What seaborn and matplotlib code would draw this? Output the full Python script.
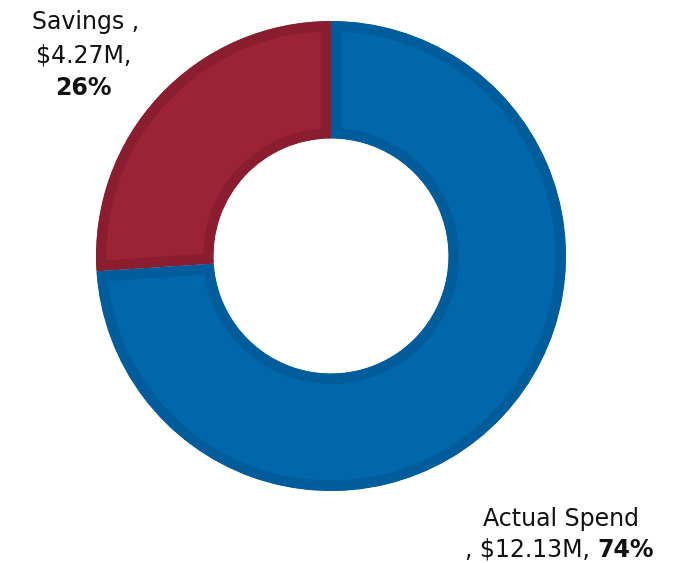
import matplotlib
matplotlib.use("Agg")
import matplotlib.pyplot as plt
from matplotlib.patches import Wedge
import seaborn as sns

# Spend breakdown (USD millions)
categories = ["Savings", "Actual Spend"]
amounts_musd = [4.27, 12.13]
shares_pct = [26, 74]
fill_colors = ["#9B2335", "#0067AB"]
edge_colors = ["#8A1E2E", "#005C9B"]

sns.set_theme(style="white")
plt.rcParams["font.family"] = ["DejaVu Sans"]

W, H = 677, 563
fig = plt.figure(figsize=(W / 100, H / 100), dpi=100)
ax = fig.add_axes([0, 0, 1, 1])

cx, cy = 331, H - 256
r_out, r_in = 235, 117.5
wedges, _ = ax.pie(
    amounts_musd,
    colors=fill_colors,
    startangle=90,
    counterclock=True,
    radius=r_out,
    center=(cx, cy),
    wedgeprops=dict(width=r_out - r_in, linewidth=0),
)
# darker inner border on each ring segment, kept inside the segment
for w, ec in zip(wedges, edge_colors):
    clip = Wedge(w.center, w.r, w.theta1, w.theta2, width=w.width,
                 transform=ax.transData)
    w.set_edgecolor(ec)
    w.set_linewidth(15)
    w.set_clip_on(True)
    w.set_clip_path(clip)

ax.set_xlim(0, W)
ax.set_ylim(0, H)
ax.set_aspect("equal")
ax.axis("off")

fs = 17
txt = dict(fontsize=fs, color="#111111", va="baseline", parse_math=False)

# Savings label (top left)
ax.text(86, H - 29, f"{categories[0]} ,", ha="center", **txt)
ax.text(84, H - 62, f"${amounts_musd[0]:.2f}M,", ha="center", **txt)
ax.text(83, H - 95, f"{shares_pct[0]}%", ha="center", fontweight="bold", **txt)

# Actual Spend label (bottom right)
ax.text(561, H - 526, categories[1], ha="center", **txt)
part1 = ax.text(0, H - 557, f", ${amounts_musd[1]:.2f}M, ", ha="left", **txt)
part2 = ax.text(0, H - 557, f"{shares_pct[1]}%", ha="left", fontweight="bold", **txt)
fig.canvas.draw()
rend = fig.canvas.get_renderer()
w1 = part1.get_window_extent(rend).width
w2 = part2.get_window_extent(rend).width
x0 = 559 - (w1 + w2) / 2
part1.set_x(x0)
part2.set_x(x0 + w1)

fig.savefig("out.png", dpi=100, facecolor="white")
